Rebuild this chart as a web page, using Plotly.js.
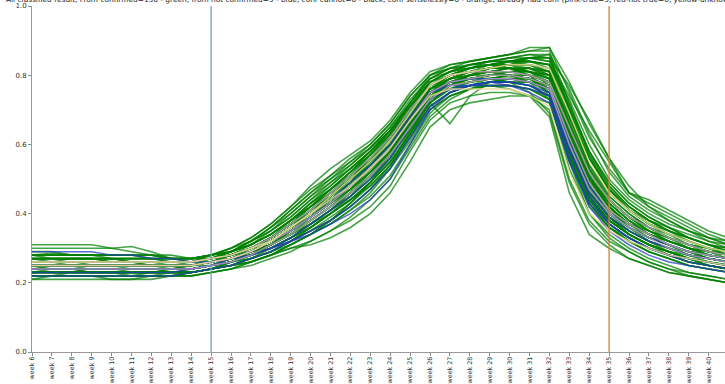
<!DOCTYPE html>
<html>
<head>
<meta charset="utf-8">
<script src="https://cdn.plot.ly/plotly-3.0.1.min.js"></script>
<style>
html,body{margin:0;padding:0;overflow:hidden;background:#fff;width:725px;height:384px;}
#chart{width:745px;height:384px;}
</style>
</head>
<body>
<div id="chart"></div>
<script>
const weeks = [6,7,8,9,10,11,12,13,14,15,16,17,18,19,20,21,22,23,24,25,26,27,28,29,30,31,32,33,34,35,36,37,38,39,40,41];
const weekLabels = weeks.map(w => 'week ' + w);
const markerWeeks = [15, 35];
const markerColors = ['#6aa3c8', '#e07b2c'];
const titleText = 'All classified result, From confirmed=130 - green, from not confirmed=5 - blue, conf cannot=0 - black, conf senselessly=0 - orange, already had conf (pink-true=5, red-not true=0, yellow-unknown=2)';

const green = [
[.31,.31,.31,.31,.30,.29,.28,.27,.27,.27, .28,.30,.33,.37,.41,.45,.50,.55,.61,.68,.75, .78,.80,.81,.82,.81,.78, .62,.48,.40,.35,.32,.30,.28,.27,.26],
[.30,.30,.30,.30,.30,.305,.29,.27,.26,.27, .28,.29,.31,.34,.38,.42,.46,.51,.57,.64,.72, .77,.79,.80,.80,.79,.75, .58,.45,.38,.34,.31,.29,.27,.26,.25],
[.28,.285,.28,.28,.28,.28,.27,.27,.27,.28, .29,.31,.34,.38,.42,.46,.51,.56,.62,.69,.76, .79,.81,.82,.83,.83,.81, .66,.52,.44,.39,.35,.33,.31,.29,.28],
[.27,.27,.27,.27,.27,.27,.27,.26,.26,.27, .28,.30,.33,.37,.40,.44,.48,.53,.59,.67,.74, .77,.78,.79,.79,.78,.76, .60,.47,.40,.36,.33,.31,.29,.28,.27],
[.26,.26,.26,.26,.26,.26,.26,.26,.26,.27, .28,.30,.32,.36,.39,.43,.48,.54,.60,.68,.75, .78,.80,.81,.81,.80,.78, .63,.50,.42,.37,.34,.32,.30,.29,.28],
[.25,.25,.25,.25,.25,.25,.25,.25,.25,.26, .27,.29,.31,.34,.38,.42,.46,.51,.57,.65,.73, .77,.79,.80,.80,.79,.76, .59,.46,.39,.35,.32,.30,.28,.27,.26],
[.24,.24,.24,.24,.24,.24,.24,.24,.25,.26, .27,.28,.31,.35,.39,.44,.49,.55,.62,.70,.77, .80,.82,.83,.84,.84,.83, .68,.54,.45,.40,.36,.33,.31,.29,.28],
[.23,.23,.23,.23,.23,.23,.23,.24,.24,.25, .26,.28,.30,.33,.36,.40,.44,.49,.55,.63,.71, .75,.77,.78,.78,.77,.74, .56,.44,.37,.33,.30,.28,.26,.25,.24],
[.22,.22,.22,.22,.22,.22,.22,.23,.23,.24, .25,.27,.29,.32,.35,.39,.43,.48,.54,.62,.70, .74,.76,.77,.77,.76,.73, .55,.42,.36,.32,.29,.27,.25,.24,.23],
[.21,.21,.21,.21,.21,.21,.22,.22,.23,.24, .25,.26,.28,.30,.32,.35,.38,.42,.48,.58,.67, .72,.74,.75,.75,.74,.70, .50,.38,.32,.29,.26,.24,.22,.21,.20],
[.27,.27,.27,.27,.26,.26,.26,.26,.26,.28, .30,.33,.37,.42,.48,.53,.57,.61,.67,.75,.81, .83,.84,.85,.86,.87,.88, .78,.66,.56,.46,.43,.40,.37,.34,.32],
[.25,.25,.25,.25,.25,.25,.25,.25,.25,.26, .28,.30,.33,.37,.42,.47,.52,.58,.64,.72,.79, .82,.84,.85,.86,.88,.88, .75,.62,.53,.46,.42,.39,.36,.33,.31],
[.24,.24,.24,.24,.24,.24,.24,.24,.24,.25, .27,.29,.32,.36,.41,.46,.51,.57,.63,.71,.78, .81,.83,.84,.85,.86,.85, .72,.58,.48,.42,.38,.35,.33,.31,.30],
[.25,.25,.25,.25,.25,.25,.25,.25,.25,.26, .27,.29,.31,.34,.37,.41,.45,.50,.57,.66,.72, .66,.74,.78,.79,.79,.77, .60,.47,.39,.35,.32,.30,.28,.27,.26],
[.23,.23,.23,.23,.23,.23,.23,.23,.23,.24, .25,.26,.28,.30,.31,.33,.36,.40,.46,.55,.65, .70,.72,.73,.74,.74,.72, .55,.40,.33,.29,.26,.24,.23,.22,.21],
[.24,.24,.24,.24,.24,.24,.24,.24,.24,.25, .26,.28,.30,.33,.37,.41,.46,.52,.58,.66,.73, .76,.77,.77,.76,.74,.68, .46,.34,.30,.27,.25,.23,.22,.21,.20],
[.26,.26,.26,.26,.26,.26,.26,.26,.26,.27, .29,.31,.34,.38,.43,.48,.53,.58,.64,.71,.77, .80,.82,.83,.84,.85,.84, .74,.64,.55,.46,.44,.41,.38,.35,.33],
[.23,.23,.23,.23,.23,.23,.23,.23,.24,.25, .27,.29,.32,.36,.40,.45,.49,.54,.60,.68,.76, .79,.80,.81,.81,.80,.78, .64,.50,.42,.37,.34,.31,.29,.28,.27],
[.26,.26,.26,.26,.26,.26,.26,.25,.25,.26, .27,.29,.31,.35,.39,.43,.47,.52,.58,.66,.74, .78,.80,.81,.82,.81,.79, .62,.48,.41,.36,.33,.31,.29,.27,.26],
[.22,.22,.22,.22,.22,.22,.22,.22,.23,.24, .25,.27,.29,.32,.36,.40,.45,.51,.58,.66,.74, .77,.79,.80,.80,.80,.78, .61,.47,.39,.34,.31,.29,.27,.25,.24],
[.28,.28,.28,.28,.27,.27,.27,.27,.27,.28, .29,.32,.35,.40,.45,.50,.54,.59,.65,.73,.79, .81,.82,.84,.84,.85,.85, .70,.56,.47,.41,.37,.35,.33,.31,.29],
[.25,.25,.25,.25,.25,.25,.25,.25,.25,.26, .28,.30,.33,.37,.41,.45,.50,.55,.61,.69,.76, .79,.80,.81,.82,.82,.80, .65,.51,.43,.38,.35,.32,.30,.28,.27],
[.24,.24,.24,.24,.24,.24,.24,.24,.24,.25, .26,.28,.31,.34,.38,.42,.47,.53,.59,.67,.75, .79,.81,.82,.82,.81,.80, .64,.52,.44,.39,.35,.32,.30,.28,.27],
[.27,.27,.27,.27,.27,.27,.27,.27,.27,.28, .29,.31,.34,.38,.42,.47,.52,.57,.63,.70,.77, .80,.81,.82,.82,.82,.80, .67,.53,.45,.40,.36,.33,.31,.30,.28],
[.23,.23,.23,.23,.23,.23,.23,.23,.23,.24, .26,.27,.30,.33,.37,.41,.45,.50,.56,.64,.72, .76,.78,.79,.79,.78,.75, .57,.44,.37,.33,.30,.28,.26,.25,.24],
[.26,.26,.26,.26,.26,.26,.26,.26,.26,.27, .28,.30,.33,.37,.41,.46,.51,.57,.64,.72,.80, .83,.84,.85,.86,.87,.87, .72,.57,.47,.41,.37,.34,.32,.30,.29],
[.25,.25,.25,.25,.25,.25,.25,.25,.25,.26, .27,.29,.32,.36,.40,.44,.49,.54,.60,.68,.76, .80,.82,.83,.83,.82,.79, .62,.48,.41,.36,.33,.31,.29,.28,.27],
[.22,.22,.22,.22,.22,.22,.23,.23,.23,.24, .25,.27,.29,.32,.35,.38,.42,.47,.53,.61,.70, .74,.76,.77,.77,.76,.74, .56,.43,.36,.32,.29,.27,.25,.24,.23],
[.24,.24,.24,.24,.24,.24,.24,.24,.24,.25, .27,.29,.32,.36,.40,.45,.50,.55,.61,.69,.77, .80,.81,.82,.83,.83,.82, .69,.56,.47,.41,.37,.34,.31,.29,.28],
[.26,.26,.26,.26,.26,.26,.26,.26,.26,.27, .28,.30,.32,.35,.39,.43,.47,.52,.58,.66,.74, .77,.78,.79,.80,.79,.77, .60,.46,.39,.35,.32,.30,.28,.27,.26],
[.23,.23,.23,.23,.23,.23,.23,.24,.24,.25, .27,.29,.32,.36,.40,.45,.50,.56,.62,.70,.77, .80,.82,.83,.84,.84,.83, .70,.58,.49,.43,.39,.36,.33,.31,.29],
[.25,.25,.25,.25,.25,.25,.25,.25,.25,.26, .27,.28,.30,.33,.36,.40,.44,.49,.55,.63,.71, .75,.77,.78,.78,.78,.76, .59,.45,.38,.34,.31,.29,.27,.26,.25],
[.27,.27,.27,.27,.27,.27,.27,.26,.26,.27, .29,.32,.35,.39,.44,.49,.54,.59,.65,.72,.78, .81,.83,.84,.85,.85,.84, .71,.57,.48,.42,.38,.35,.33,.31,.30],
[.24,.24,.24,.24,.24,.24,.24,.24,.24,.25, .26,.28,.30,.33,.37,.41,.46,.51,.57,.65,.73, .77,.79,.80,.80,.79,.77, .58,.45,.38,.34,.31,.29,.27,.26,.25],
[.28,.28,.28,.28,.28,.28,.28,.27,.27,.28, .30,.32,.36,.41,.46,.51,.56,.60,.66,.74,.80, .82,.83,.84,.85,.86,.86, .76,.63,.52,.45,.41,.38,.35,.33,.31],
[.22,.22,.22,.22,.22,.22,.22,.22,.22,.23, .24,.26,.28,.31,.34,.37,.41,.45,.51,.60,.69, .74,.76,.77,.77,.76,.73, .53,.40,.34,.30,.27,.25,.23,.22,.21],
[.26,.26,.26,.26,.26,.26,.26,.26,.26,.27, .28,.30,.33,.37,.41,.46,.51,.56,.62,.70,.77, .80,.81,.82,.82,.81,.79, .63,.49,.42,.37,.34,.32,.30,.28,.27],
[.25,.25,.25,.25,.25,.25,.25,.25,.25,.26, .27,.29,.31,.35,.39,.43,.48,.53,.59,.67,.75, .79,.81,.82,.82,.82,.81, .66,.53,.44,.39,.35,.33,.30,.29,.28],
[.23,.23,.23,.23,.23,.23,.23,.23,.23,.24, .25,.27,.29,.32,.36,.40,.44,.49,.55,.63,.72, .76,.78,.79,.79,.79,.77, .60,.46,.39,.34,.31,.29,.27,.26,.25],
[.24,.24,.24,.24,.24,.24,.24,.24,.24,.25, .26,.28,.31,.35,.39,.44,.48,.53,.59,.67,.75, .78,.79,.80,.81,.81,.79, .64,.51,.43,.38,.34,.32,.30,.28,.27],
[.27,.26,.27,.27,.26,.26,.25,.25,.25,.26, .27,.28,.31,.34,.39,.43,.49,.55,.63,.72,.79, .82,.83,.83,.82,.80,.74, .56,.44,.38,.34,.31,.29,.28,.26,.25],
[.23,.24,.24,.23,.23,.24,.24,.24,.25,.27, .29,.32,.36,.41,.46,.50,.55,.60,.66,.74,.80, .82,.82,.83,.84,.83,.80, .62,.48,.41,.37,.35,.33,.31,.29,.27],
[.25,.24,.24,.25,.25,.24,.24,.24,.25,.25, .26,.27,.29,.31,.34,.37,.41,.46,.53,.63,.73, .78,.80,.82,.83,.85,.86, .70,.53,.44,.39,.36,.34,.32,.30,.29],
[.21,.22,.22,.22,.21,.21,.21,.22,.22,.23, .24,.26,.28,.31,.34,.38,.43,.49,.57,.66,.74, .78,.79,.79,.78,.75,.69, .49,.37,.31,.27,.25,.23,.22,.21,.20],
[.28,.27,.27,.27,.27,.26,.26,.26,.26,.27, .29,.31,.35,.39,.44,.48,.53,.58,.63,.70,.75, .77,.80,.82,.84,.85,.85, .77,.67,.56,.48,.42,.38,.35,.32,.30],
[.26,.26,.25,.25,.25,.25,.25,.24,.24,.25, .26,.28,.31,.35,.39,.44,.48,.53,.59,.68,.76, .79,.81,.81,.80,.78,.73, .57,.43,.36,.33,.30,.28,.27,.26,.25],
[.24,.24,.24,.23,.23,.23,.23,.23,.23,.24, .26,.28,.31,.34,.37,.40,.44,.48,.54,.62,.71, .75,.77,.79,.80,.80,.78, .63,.49,.42,.37,.33,.31,.28,.27,.26],
[.29,.29,.28,.28,.28,.28,.28,.28,.27,.28, .30,.33,.37,.42,.47,.51,.55,.59,.64,.71,.78, .80,.81,.83,.84,.84,.82, .68,.54,.46,.41,.38,.36,.34,.32,.31],
[.22,.22,.23,.23,.23,.22,.22,.22,.22,.23, .24,.25,.27,.29,.32,.35,.39,.44,.50,.59,.68, .73,.76,.78,.79,.79,.77, .59,.45,.38,.34,.31,.29,.27,.25,.24],
[.25,.25,.25,.26,.26,.26,.25,.25,.25,.26, .28,.31,.34,.38,.43,.47,.52,.57,.62,.69,.76, .78,.79,.79,.78,.77,.74, .61,.50,.43,.38,.34,.31,.29,.27,.26],
[.27,.27,.27,.27,.27,.26,.26,.26,.26,.27, .28,.30,.32,.36,.40,.45,.50,.56,.62,.70,.78, .81,.83,.84,.84,.84,.83, .73,.60,.50,.44,.40,.37,.35,.33,.32],
[.23,.23,.23,.23,.23,.23,.23,.23,.23,.24, .26,.29,.33,.38,.43,.47,.51,.55,.60,.67,.74, .77,.78,.79,.80,.79,.76, .58,.46,.40,.36,.33,.31,.29,.27,.26],
[.24,.25,.25,.25,.25,.25,.25,.25,.25,.26, .27,.28,.30,.32,.35,.38,.42,.47,.54,.64,.73, .77,.79,.80,.81,.82,.81, .66,.51,.42,.36,.32,.29,.27,.25,.24],
[.26,.26,.26,.26,.26,.26,.26,.26,.26,.27, .29,.31,.34,.38,.42,.46,.50,.54,.60,.68,.76, .80,.82,.83,.83,.81,.77, .59,.45,.38,.34,.31,.28,.26,.25,.24],
[.22,.22,.22,.22,.22,.22,.22,.22,.23,.24, .26,.28,.31,.35,.39,.43,.47,.52,.58,.66,.73, .76,.77,.78,.78,.78,.76, .61,.50,.44,.39,.36,.33,.31,.30,.28],
[.28,.28,.28,.28,.28,.28,.28,.27,.27,.27, .28,.30,.32,.36,.40,.44,.48,.53,.59,.67,.75, .79,.81,.82,.83,.83,.81, .65,.50,.42,.37,.34,.32,.30,.29,.28],
[.25,.25,.25,.25,.25,.25,.25,.25,.26,.27, .29,.32,.36,.40,.45,.49,.53,.58,.64,.71,.78, .81,.82,.83,.82,.80,.76, .58,.44,.37,.33,.30,.28,.26,.25,.24],
[.23,.23,.23,.23,.23,.23,.23,.23,.23,.24, .25,.26,.28,.31,.34,.38,.43,.49,.56,.65,.74, .78,.79,.80,.81,.81,.80, .68,.56,.47,.42,.38,.35,.32,.30,.28],
[.24,.24,.24,.24,.24,.24,.24,.24,.24,.25, .27,.30,.33,.37,.42,.47,.52,.58,.64,.71,.77, .79,.80,.80,.80,.79,.75, .57,.43,.36,.32,.29,.27,.25,.24,.23],
[.26,.26,.26,.26,.26,.26,.26,.26,.26,.26, .27,.29,.31,.34,.38,.42,.46,.51,.57,.65,.73, .77,.80,.82,.83,.84,.83, .71,.58,.49,.43,.39,.36,.33,.31,.29]
];

const blue = [
[.24,.24,.24,.24,.24,.24,.24,.24,.24,.25, .26,.28,.30,.33,.37,.41,.45,.50,.56,.65,.73, .76,.77,.77,.77,.76,.74, .58,.46,.39,.35,.32,.30,.28,.27,.26],
[.23,.23,.23,.23,.23,.23,.23,.23,.24,.25, .27,.29,.32,.36,.40,.44,.49,.54,.60,.68,.75, .77,.77,.78,.77,.75,.72, .55,.43,.37,.33,.30,.28,.27,.26,.25],
[.22,.22,.22,.22,.22,.22,.22,.22,.23,.24, .25,.27,.29,.32,.35,.38,.42,.47,.53,.62,.71, .75,.77,.78,.78,.77,.75, .59,.45,.37,.33,.30,.28,.26,.25,.24],
[.29,.29,.29,.29,.28,.28,.27,.27,.26,.26, .27,.28,.30,.32,.34,.37,.40,.44,.50,.60,.70, .75,.77,.78,.78,.77,.74, .56,.42,.35,.31,.28,.26,.25,.24,.23],
[.25,.25,.25,.25,.25,.25,.25,.25,.25,.26, .27,.29,.32,.35,.39,.43,.48,.53,.59,.67,.75, .78,.79,.79,.79,.78,.76, .61,.48,.40,.36,.33,.31,.29,.28,.27]
];

const pink = [
[.25,.25,.25,.25,.25,.25,.25,.25,.25,.26, .27,.29,.32,.35,.39,.43,.48,.53,.59,.67,.75, .78,.79,.80,.80,.79,.77, .62,.49,.41,.37,.34,.31,.29,.28,.27],
[.26,.26,.26,.26,.26,.26,.26,.26,.26,.27, .28,.30,.33,.37,.41,.46,.51,.56,.62,.70,.77, .80,.81,.81,.81,.80,.78, .65,.52,.44,.39,.36,.33,.31,.29,.28],
[.24,.24,.24,.24,.24,.24,.24,.24,.24,.25, .26,.28,.31,.34,.38,.42,.46,.51,.57,.65,.73, .77,.78,.79,.79,.78,.76, .60,.47,.40,.36,.33,.30,.28,.27,.26]
];

const yellow = [
[.26,.26,.26,.26,.26,.26,.26,.26,.26,.27, .28,.30,.32,.36,.40,.44,.48,.53,.59,.67,.74, .76,.76,.76,.76,.74,.71, .52,.40,.35,.32,.30,.28,.27,.26,.25],
[.25,.25,.25,.25,.25,.25,.25,.25,.25,.26, .27,.29,.32,.36,.40,.45,.50,.55,.61,.69,.77, .80,.81,.82,.83,.83,.82, .69,.55,.46,.41,.37,.34,.32,.30,.29]
];

const groups = [
  {rows: green, color: '#008000', opacity: 0.72, width: 1.6},
  {rows: blue, color: '#1f3fbf', opacity: 0.75, width: 1.5},
  {rows: pink, color: '#c8a0c8', opacity: 0.8, width: 1.5},
  {rows: yellow, color: '#e8d890', opacity: 0.85, width: 1.5}
];

const traces = [];
groups.forEach(g => {
  g.rows.forEach(r => {
    traces.push({
      x: weeks, y: r, type: 'scatter', mode: 'lines',
      line: {color: g.color, width: g.width},
      opacity: g.opacity, hoverinfo: 'skip', showlegend: false
    });
  });
});

const shapes = markerWeeks.map((w, i) => ({
  type: 'line', xref: 'x', yref: 'paper', x0: w, x1: w, y0: 0, y1: 1,
  line: {color: markerColors[i], width: 1.3}, layer: 'above'
}));

const W = 745, H = 384;
const layout = {
  width: W, height: H,
  margin: {l: 32, r: 0, t: 6, b: 32, pad: 0},
  paper_bgcolor: '#fff', plot_bgcolor: '#fff',
  font: {family: 'DejaVu Sans', size: 7, color: '#333'},
  annotations: [{
    text: titleText, font: {family: 'DejaVu Sans', size: 7.4, color: '#222'},
    xref: 'paper', yref: 'paper', x: 0, y: 1, xanchor: 'left', yanchor: 'bottom',
    xshift: -27, yshift: 1, showarrow: false, borderpad: 0
  }],
  xaxis: {
    range: [6, 6 + 713 / 19.9],
    tickmode: 'array', tickvals: weeks, ticktext: weekLabels,
    tickangle: -90, ticks: 'outside', ticklen: 3, tickcolor: '#888', tickwidth: 1,
    ticklabelstandoff: -2,
    showgrid: false, zeroline: false, showline: true, linecolor: '#999', linewidth: 1,
    mirror: false, tickfont: {size: 6.4, color: '#333'}, automargin: false
  },
  yaxis: {
    range: [0, 1], tickmode: 'array', tickvals: [0, 0.2, 0.4, 0.6, 0.8, 1.0],
    ticktext: ['0.0', '0.2', '0.4', '0.6', '0.8', '1.0'],
    ticks: 'outside', ticklen: 3, tickcolor: '#888', tickwidth: 1,
    showgrid: false, zeroline: false, showline: true, linecolor: '#999', linewidth: 1,
    mirror: false, tickfont: {size: 7, color: '#333'}, automargin: false
  },
  shapes: shapes
};

Plotly.newPlot('chart', traces, layout, {staticPlot: true, displayModeBar: false});
</script>
</body>
</html>
